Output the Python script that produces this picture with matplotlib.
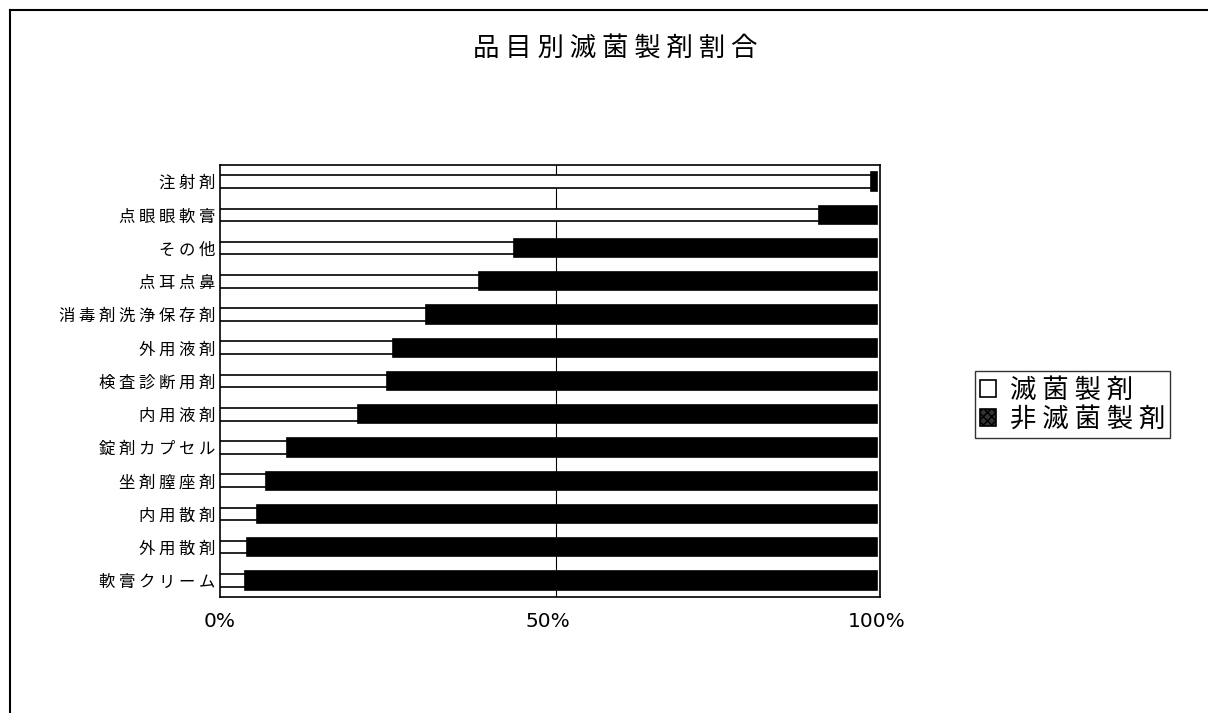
import matplotlib
matplotlib.use("Agg")
import matplotlib.pyplot as plt
from matplotlib.patches import Rectangle
from matplotlib.lines import Line2D

plt.rcParams['font.family'] = ['Noto Sans CJK JP', 'DejaVu Sans']

categories = ["注射剤", "点眼眼軟膏", "その他", "点耳点鼻", "消毒剤洗浄保存剤", "外用液剤",
              "検査診断用剤", "内用液剤", "錠剤カプセル", "坐剤膣座剤", "内用散剤", "外用散剤", "軟膏クリーム"]
sterile = [99.2, 91.2, 44.7, 39.5, 31.3, 26.3, 25.5, 21.0, 10.2, 7.0, 5.6, 4.1, 3.8]
nonsterile = [100 - v for v in sterile]
series_names = ["滅菌製剤", "非滅菌製剤"]
xticks = [0, 50, 100]
xticklabels = ["0%", "50%", "100%"]
title = "品目別滅菌製剤割合"


def spaced(s, sep=" "):
    return sep.join(s)


W, H = 1208, 713
fig = plt.figure(figsize=(W / 100, H / 100), dpi=100)
ax = fig.add_axes([220 / W, 1 - 597 / H, 660 / W, 432 / H])

ypos = list(range(len(categories)))
ax.barh(ypos, nonsterile, left=sterile, height=0.55, color="black", edgecolor="black", linewidth=1.2, zorder=2)
ax.barh(ypos, sterile, height=0.38, color="white", edgecolor="black", linewidth=1.2, zorder=3)

ax.set_xlim(0, 100.5)
ax.set_ylim(len(categories) - 0.5, -0.5)
ax.set_yticks(ypos)
ax.set_yticklabels([spaced(c) for c in categories], fontsize=11.8)
ax.set_xticks(xticks)
ax.set_xticklabels(xticklabels, fontsize=14.5, family=['DejaVu Sans'])
ax.tick_params(axis='y', length=0, pad=3)
ax.tick_params(axis='x', length=0, pad=11)
ax.axvline(51.2, color="black", linewidth=0.8, zorder=1)
for s in ax.spines.values():
    s.set_linewidth(1.2)

fig.text(615 / W, 1 - 48 / H, spaced(title), ha="center", va="center", fontsize=19)

# figure border
fig.add_artist(Line2D([10 / W, 10 / W], [0, 1 - 10 / H], color="black", linewidth=1.5, transform=fig.transFigure))
fig.add_artist(Line2D([10 / W, 1], [1 - 10 / H, 1 - 10 / H], color="black", linewidth=1.5, transform=fig.transFigure))

handles = [Rectangle((0, 0), 1, 1, facecolor="white", edgecolor="black", linewidth=1.2),
           Rectangle((0, 0), 1, 1, facecolor="#333333", edgecolor="black", linewidth=1.2, hatch="xxxx")]
leg = fig.legend(handles, [spaced(n) for n in series_names], loc="upper left",
                 bbox_to_anchor=(962 / W, 1 - 358 / H),
                 fontsize=19, frameon=True, fancybox=False, edgecolor="black",
                 handlelength=0.6, handleheight=0.6, handletextpad=0.5, borderpad=0.2, labelspacing=0.1)
leg.get_frame().set_linewidth(1.0)

fig.savefig("out.png", dpi=100)
